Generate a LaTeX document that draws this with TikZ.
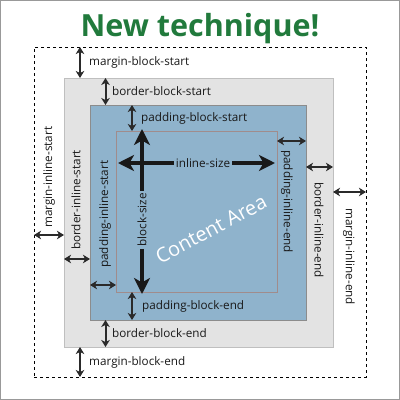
\documentclass[tikz,border=0pt]{standalone}
\usepackage{fontspec}
\setmainfont{Open Sans}
\usetikzlibrary{arrows.meta}
\definecolor{titlegreen}{HTML}{217A3C}
\definecolor{borderfill}{HTML}{E3E3E3}
\definecolor{padfill}{HTML}{8FB3CC}
\definecolor{inkdark}{HTML}{2A2A2A}
\definecolor{framegray}{HTML}{999999}
\definecolor{contentedge}{HTML}{A08C8C}
\tikzset{
  box/.style={anchor=north west, inner sep=0pt, outer sep=0pt},
  thinarrow/.style={draw=inkdark, line width=2pt, {Stealth[length=7pt,width=8.5pt,inset=2pt]}-{Stealth[length=7pt,width=8.5pt,inset=2pt]}},
  thickarrow/.style={draw=black!90, line width=4.5pt, -{Stealth[length=16pt,width=16pt,inset=4.5pt]}},
  lbl/.style={font=\fontsize{11.7}{12}\selectfont, text=black!90, inner sep=0pt},
}
\begin{document}
\begin{tikzpicture}[x=1pt,y=-1pt]
\useasboundingbox (0,0) rectangle (400,400);
\draw[framegray, line width=1pt] (0.5,0.5) rectangle (399.5,399.5);
\node[font=\fontsize{30.5}{32}\bfseries\selectfont, text=titlegreen, inner sep=0pt] (title) at (200,28.5) {New technique!};
% boxes
\node[box, draw=black, dashed, line width=0.8pt, minimum width=332pt, minimum height=330pt] (margin) at (34,47) {};
\node[box, draw=black!25, fill=borderfill, line width=0.8pt, minimum width=269pt, minimum height=269pt] (border) at (64,78) {};
\node[box, draw=black!45, fill=padfill, line width=0.8pt, minimum width=216pt, minimum height=215pt] (padding) at (90,105) {};
\node[box, draw=contentedge, line width=0.8pt, minimum width=161pt, minimum height=161pt] (content) at (116,131) {};
% block arrows top
\coordinate (mbs) at (80,0); \coordinate (bbs) at (105.5,0); \coordinate (pbs) at (132,0);
\draw[thinarrow] (margin.north -| mbs) -- (border.north -| mbs);
\draw[thinarrow] (border.north -| bbs) -- (padding.north -| bbs);
\draw[thinarrow] (padding.north -| pbs) -- (content.north -| pbs);
\draw[thinarrow] (content.south -| pbs) -- (padding.south -| pbs);
\draw[thinarrow] (padding.south -| bbs) -- (border.south -| bbs);
\draw[thinarrow] (border.south -| mbs) -- (margin.south -| mbs);
\node[lbl, anchor=west] (l1) at (89,62) {margin-block-start};
\node[lbl, anchor=west] (l2) at (112,91) {border-block-start};
\node[lbl, anchor=west] (l3) at (141,118) {padding-block-start};
\node[lbl, anchor=west] (l4) at (142,306) {padding-block-end};
\node[lbl, anchor=west] (l5) at (112,333) {border-block-end};
\node[lbl, anchor=west] (l6) at (89,362) {margin-block-end};
% inline arrows
\coordinate (mis) at (0,235); \coordinate (bis) at (0,259); \coordinate (pis) at (0,285);
\coordinate (pie) at (0,141); \coordinate (bie) at (0,167); \coordinate (mie) at (0,192);
\draw[thinarrow] (margin.west |- mis) -- (border.west |- mis);
\draw[thinarrow] (border.west |- bis) -- (padding.west |- bis);
\draw[thinarrow] (padding.west |- pis) -- (content.west |- pis);
\draw[thinarrow] (content.east |- pie) -- (padding.east |- pie);
\draw[thinarrow] (padding.east |- bie) -- (border.east |- bie);
\draw[thinarrow] (border.east |- mie) -- (margin.east |- mie);
\node[lbl, rotate=90, anchor=west] (l7) at (49,228) {margin-inline-start};
\node[lbl, rotate=90, anchor=west] (l8) at (76,250) {border-inline-start};
\node[lbl, rotate=90, anchor=west] (l9) at (105,268) {padding-inline-start};
\node[lbl, rotate=-90, anchor=west] (l10) at (287,150) {padding-inline-end};
\node[lbl, rotate=-90, anchor=west] (l11) at (319,182) {border-inline-end};
\node[lbl, rotate=-90, anchor=west] (l12) at (349,208) {margin-inline-end};
% content arrows
\coordinate (cx) at (142,0); \coordinate (cy) at (0,163);
\node[lbl, fill=padfill, inner xsep=2pt, inner ysep=1pt] (isz) at (203,163) {inline-size};
\node[lbl, fill=padfill, rotate=90, inner xsep=2pt, inner ysep=1pt] (bsz) at (142,220) {block-size};
\draw[thickarrow] (bsz.east) -- ([yshift=2pt]content.north -| cx);
\draw[thickarrow] (bsz.west) -- ([yshift=-2pt]content.south -| cx);
\draw[thickarrow] (isz.west) -- ([xshift=2pt]content.west |- cy);
\draw[thickarrow] (isz.east) -- ([xshift=-2pt]content.east |- cy);
\node[font=\fontsize{20}{22}\selectfont, text=white, rotate=28, inner sep=0pt] (area) at (211,229) {Content Area};
\end{tikzpicture}
\end{document}
